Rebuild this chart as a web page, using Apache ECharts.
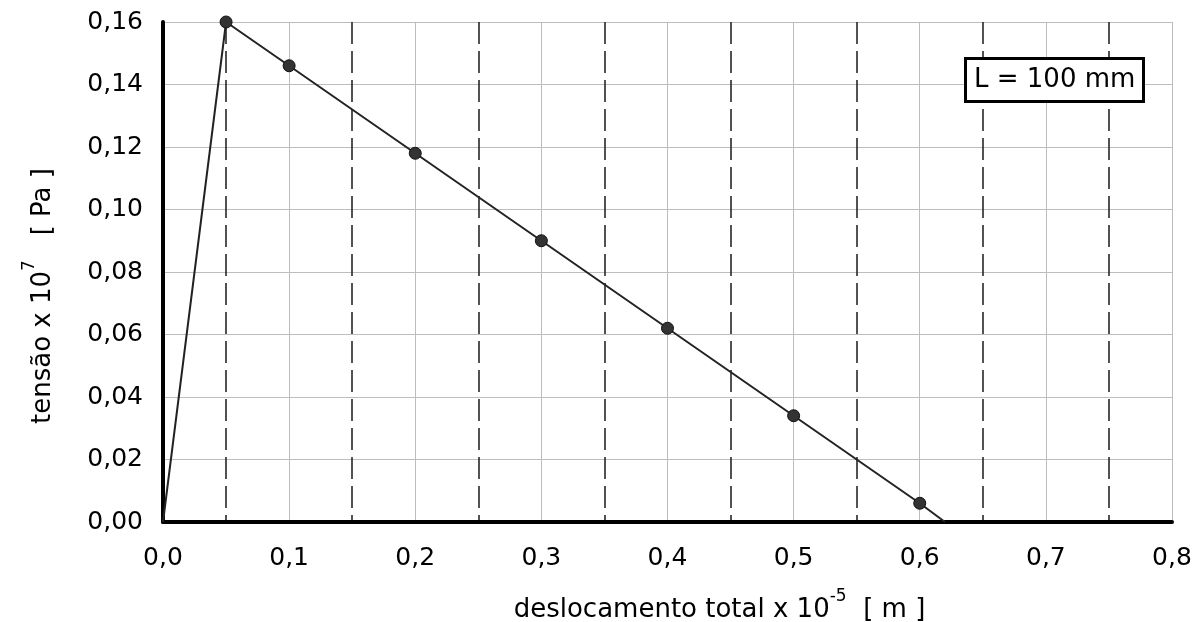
<!DOCTYPE html>
<html>
<head>
<meta charset="utf-8">
<script src="https://cdn.jsdelivr.net/npm/echarts@6/dist/echarts.min.js"></script>
<style>
html,body{margin:0;padding:0;background:#fff;}
#chart{width:1204px;height:622px;}
</style>
</head>
<body>
<div id="chart"></div>
<script>
// deslocamento total x 10^-5 [m]
var xValues = [0, 0.05, 0.1, 0.2, 0.3, 0.4, 0.5, 0.6, 0.62];
// tensão x 10^7 [Pa]
var yValues = [0, 0.160, 0.146, 0.118, 0.090, 0.062, 0.034, 0.006, 0];
// which points carry a marker
var hasMarker = [false, true, true, true, true, true, true, true, false];
var legendText = 'L = 100 mm';
var xTitle = ['deslocamento total x 10', '-5', '  [ m ]'];
var yTitle = ['tensão x 10', '7', '   [ Pa ]'];

var FONT = 'DejaVu Sans';
var data = xValues.map(function (x, i) {
  return { value: [x, yValues[i]], symbol: hasMarker[i] ? 'circle' : 'none' };
});

var chart = echarts.init(document.getElementById('chart'), null, { renderer: 'canvas' });
chart.setOption({
  animation: false,
  backgroundColor: '#fff',
  title: {
    text: legendText,
    left: 965,
    top: 58,
    padding: [9, 8, 9, 9],
    borderColor: '#000',
    borderWidth: 3,
    backgroundColor: '#fff',
    textStyle: { fontFamily: FONT, fontSize: 26, fontWeight: 'normal', color: '#000' }
  },
  grid: { left: 163, right: 32, top: 22, bottom: 100, containLabel: false, outerBoundsMode: 'none' },
  xAxis: {
    type: 'value',
    min: 0, max: 0.8, interval: 0.1,
    name: '{a|' + xTitle[0] + '}{s|' + xTitle[1] + '}{a|' + xTitle[2] + '}',
    nameLocation: 'middle',
    nameGap: 66,
    nameTextStyle: {
      padding: [0, 0, 0, 104],
      rich: {
        a: { fontFamily: FONT, fontSize: 26, color: '#000', lineHeight: 44 },
        s: { fontFamily: FONT, fontSize: 17, color: '#000', lineHeight: 17, verticalAlign: 'top' }
      }
    },
    axisLine: { show: true, onZero: false, lineStyle: { color: '#000', width: 4 } },
    axisTick: { show: false },
    minorTick: { show: false, splitNumber: 2 },
    axisLabel: {
      margin: 24,
      fontFamily: FONT, fontSize: 25, color: '#000',
      formatter: function (v) { return v.toFixed(1).replace('.', ','); }
    },
    splitLine: { show: true, lineStyle: { color: '#bdbdbd', width: 1 } },
    minorSplitLine: { show: true, lineStyle: { color: '#1a1a1a', width: 1.5, type: [22, 7] } }
  },
  yAxis: {
    type: 'value',
    min: 0, max: 0.16, interval: 0.02,
    name: '{a|' + yTitle[0] + '}{s|' + yTitle[1] + '}{a|' + yTitle[2] + '}',
    nameLocation: 'middle',
    nameGap: 98,
    nameTextStyle: {
      padding: [0, 48, 0, 0],
      rich: {
        a: { fontFamily: FONT, fontSize: 26, color: '#000', lineHeight: 44 },
        s: { fontFamily: FONT, fontSize: 17, color: '#000', lineHeight: 17, verticalAlign: 'top' }
      }
    },
    axisLine: { show: true, onZero: false, lineStyle: { color: '#000', width: 4 } },
    axisTick: { show: false },
    axisLabel: {
      margin: 20,
      fontFamily: FONT, fontSize: 25, color: '#000',
      formatter: function (v) { return v.toFixed(2).replace('.', ','); }
    },
    splitLine: { show: true, lineStyle: { color: '#bdbdbd', width: 1 } }
  },
  series: [{
    type: 'line',
    data: data,
    symbolSize: 12,
    showAllSymbol: true,
    lineStyle: { color: '#222', width: 2 },
    itemStyle: { color: '#333', borderColor: '#111', borderWidth: 1 },
    z: 5
  }]
});
</script>
</body>
</html>
